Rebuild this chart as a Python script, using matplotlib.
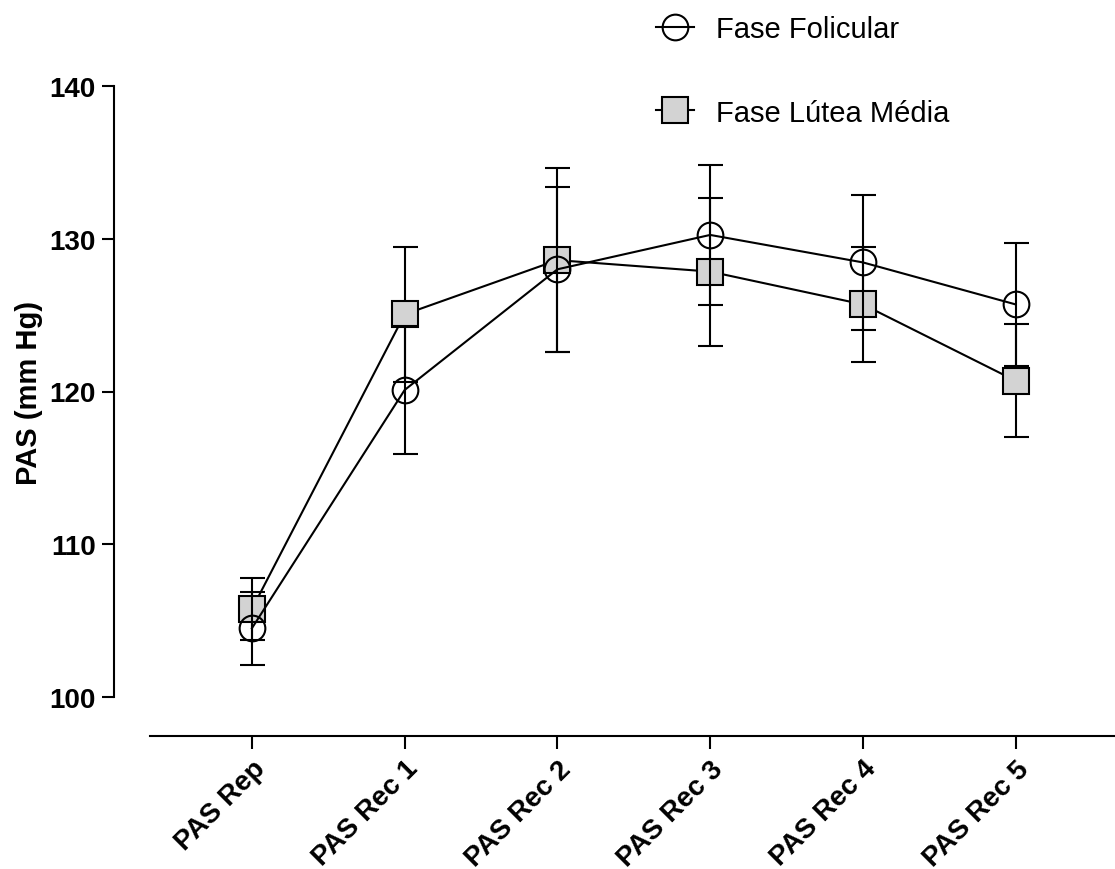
import numpy as np
import matplotlib.pyplot as plt
from matplotlib.lines import Line2D

plt.rcParams['font.family'] = ['Liberation Sans', 'DejaVu Sans']

# data
labels = ['PAS Rep', 'PAS Rec 1', 'PAS Rec 2', 'PAS Rec 3', 'PAS Rec 4', 'PAS Rec 5']
folicular = [104.5, 120.1, 128.0, 130.25, 128.45, 125.7]
folicular_err = [2.4, 4.2, 5.4, 4.6, 4.4, 4.0]
lutea = [105.75, 125.05, 128.6, 127.85, 125.7, 120.7]
lutea_err = [2.05, 4.4, 6.0, 4.85, 3.75, 3.7]

x = np.arange(len(labels))

fig = plt.figure(figsize=(11.15, 8.7), dpi=100)
ax = fig.add_axes([150 / 1115, 1 - 698 / 870, 965 / 1115, 611 / 870])

# spines first, moving them resets the ticks
ax.spines['top'].set_visible(False)
ax.spines['right'].set_visible(False)
ax.spines['left'].set_position(('outward', 26))
ax.spines['bottom'].set_position(('outward', 28))
ax.spines['left'].set_linewidth(1.5)
ax.spines['bottom'].set_linewidth(1.5)

lw = 1.5
ax.errorbar(x, lutea, yerr=lutea_err, fmt='-s', color='black', mfc='#d3d3d3',
            mec='black', mew=lw, ms=18.5, lw=lw, elinewidth=lw, capsize=9,
            capthick=lw, zorder=2)
ax.errorbar(x, folicular, yerr=folicular_err, fmt='-o', color='black', mfc='none',
            mec='black', mew=lw, ms=18.5, lw=lw, elinewidth=lw, capsize=9,
            capthick=lw, zorder=3)

ax.set_xlim(-0.667, 5.65)
ax.set_ylim(100, 140)
ax.set_yticks([100, 110, 120, 130, 140])
ax.set_yticklabels(['100', '110', '120', '130', '140'], fontsize=20, fontweight='bold')
ax.set_xticks(x)
ax.set_xticklabels(labels, rotation=45, ha='right', rotation_mode='anchor',
                   fontsize=20, fontweight='bold')
ax.set_ylabel('PAS (mm Hg)', fontsize=21, fontweight='bold', labelpad=5)
ax.tick_params(axis='both', width=1.5, length=9)
ax.tick_params(axis='y', pad=4)
ax.tick_params(axis='x', pad=5)

handles = [
    Line2D([], [], color='black', lw=lw, marker='o', mfc='none', mec='black',
           mew=lw, ms=18.5),
    Line2D([], [], color='black', lw=lw, marker='s', mfc='#d3d3d3', mec='black',
           mew=lw, ms=18.5),
]
fig.legend(handles, ['Fase Folicular', 'Fase Lútea Média'], loc='upper left',
           bbox_to_anchor=(630 / 1115, 1 + 10 / 870), frameon=False, fontsize=21,
           handlelength=1.3, handletextpad=0.75, labelspacing=1.9)

fig.savefig('out.png', dpi=100)
